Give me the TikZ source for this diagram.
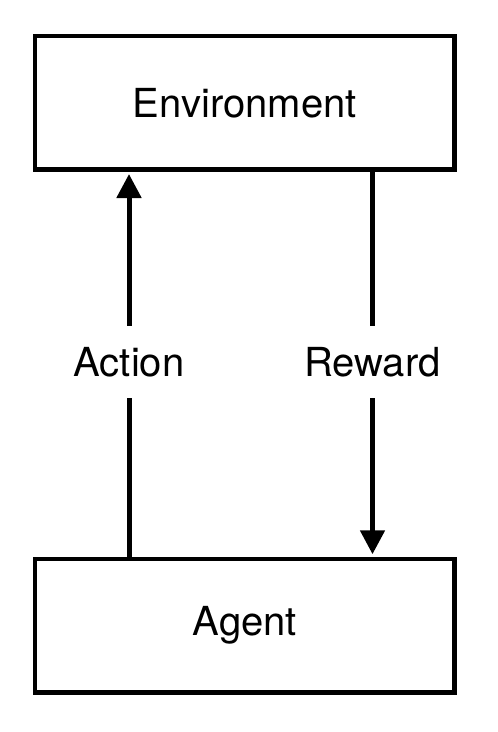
\documentclass[tikz,border=0pt]{standalone}
\usepackage{fontspec}
\setmainfont{TeX Gyre Heros}
\usepackage{tikz}
\usetikzlibrary{arrows.meta}

\begin{document}
\begin{tikzpicture}[x=1pt,y=-1pt,
    box/.style={draw,line width=4.5pt,minimum width=419.5pt,minimum height=133.5pt,
        font=\fontsize{40}{48}\selectfont},
    lbl/.style={inner xsep=0pt,inner ysep=21pt,font=\fontsize{40}{48}\selectfont},
    wire/.style={line width=5pt},
    flow/.style={line width=5pt,-{Triangle[width=24pt,length=24pt]},shorten >=2.25pt}]
    \useasboundingbox (0,0) rectangle (498,732);

    \node[box] (env) at (244.75,102.75) {Environment};
    \node[box] (agent) at (244.75,625.5) {Agent};

    \node[lbl] (action) at (129,362) {Action};
    \node[lbl] (reward) at (372.5,362) {Reward};

    \draw[wire] (agent.north -| action) -- (action);
    \draw[flow] (action) -- (env.south -| action);
    \draw[wire] (env.south -| reward) -- (reward);
    \draw[flow] (reward) -- (agent.north -| reward);
\end{tikzpicture}
\end{document}
